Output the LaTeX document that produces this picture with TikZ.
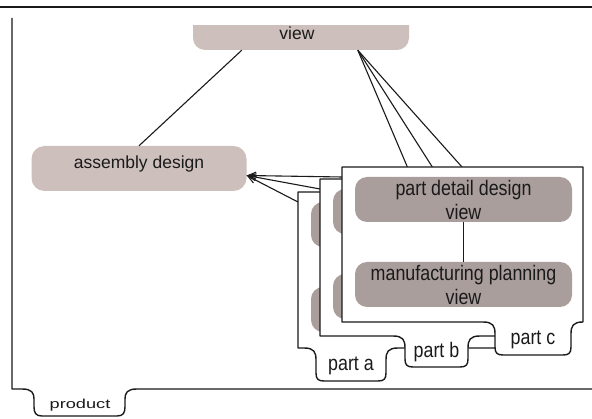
\documentclass[tikz,border=0pt]{standalone}
\usepackage{fontspec}
\setmainfont{Liberation Sans}
\newfontfamily\condfont[FakeStretch=0.85]{Liberation Sans}
\newfontfamily\widefont[FakeStretch=1.4]{Liberation Sans}
\usetikzlibrary{arrows.meta,calc}
\definecolor{viewfill}{HTML}{CDBFBC}
\definecolor{partfill}{HTML}{AA9E9C}
\definecolor{ink}{HTML}{1A1A1A}
\tikzset{
  frameline/.style={draw=ink, line width=1.4pt, line join=round},
  conn/.style={draw=ink, line width=1.1pt},
  barbconn/.style={draw=ink, line width=1.1pt, {Straight Barb[length=8pt,width=7pt]}-},
  viewbox/.style={fill=viewfill, rounded corners=12pt, inner sep=0pt},
  viewtext/.style={font=\fontsize{17.5}{21}\selectfont, text=ink, inner sep=0pt},
  partbox/.style={fill=partfill, rounded corners=12pt, inner sep=0pt,
    minimum width=217pt, minimum height=45pt, align=center,
    font=\condfont\fontsize{21}{24}\selectfont, text=ink},
  partlbl/.style={font=\condfont\fontsize{21}{24}\selectfont, text=ink, inner sep=0pt},
  prodlbl/.style={font=\widefont\fontsize{13}{15}\selectfont, text=ink, inner sep=0pt}
}
% #1 L, #2 T, #3 R, #4 B, #5 x1, #6 x2, #7 depth, #8 name prefix, #9 label
\newcommand{\pframe}[9]{%
  \draw[frameline, fill=white] (#1,#2) -- (#3,#2) -- (#3,#4) -- (#6,#4)
    .. controls (#6-10,#4) and (#6-12,#4+4) .. (#6-12,#4+12)
    -- (#6-12,#4+#7-8)
    .. controls (#6-12,#4+#7-2) and (#6-14,#4+#7) .. (#6-20,#4+#7)
    -- (#5+20,#4+#7)
    .. controls (#5+14,#4+#7) and (#5+12,#4+#7-2) .. (#5+12,#4+#7-8)
    -- (#5+12,#4+12)
    .. controls (#5+12,#4+4) and (#5+10,#4) .. (#5,#4)
    -- (#1,#4) -- cycle;
  \node[partlbl] (#8l) at (#5/2+#6/2,#4+#7/2+1) {#9};
}
% hidden boxes of a back frame: #1 L, #2 T, #3 prefix
\newcommand{\pboxes}[3]{%
  \node[partbox] (#3d) at (#1+121.5,#2+32.5) {};
  \node[partbox] (#3m) at (#1+121.5,#2+117.5) {};
  \draw[conn] (#3d.south) -- (#3m.north);
}
\begin{document}
\begin{tikzpicture}[x=1pt,y=-1pt]
\useasboundingbox (0,0) rectangle (592,419);
\fill[white] (0,0) rectangle (592,419);

% top rule and product frame
\draw[frameline] (0,7) -- (592,7);
\draw[frameline] (12,18) -- (12,389) -- (22,389)
    .. controls (32,389) and (34,393) .. (34,399)
    -- (34,407)
    .. controls (34,413) and (36,416) .. (42,416)
    -- (117,416)
    .. controls (123,416) and (125,413) .. (125,407)
    -- (125,399)
    .. controls (125,393) and (127,389) .. (137,389)
    -- (592,389);
\node[prodlbl] (prod) at (80,405) {product};

% top view node (top cut off)
\begin{scope}
  \clip (0,26) rectangle (592,419);
  \node[viewbox, minimum width=216pt, minimum height=40pt] (top) at (301,30) {};
\end{scope}
\node[viewtext] (toptext) at (297,33) {view};

% assembly design view
\node[viewbox, rounded corners=13pt, minimum width=215pt, minimum height=45pt] (asm) at (139,168.5) {};
\node[viewtext] (asmtext) at (139,164) {assembly design};

% anchor points on the part frames
\coordinate (ta) at (418,192);
\coordinate (tb) at (440,179);
\coordinate (tc) at (462,167);
\coordinate (sa) at (298,202);
\coordinate (sb) at (320,189);
\coordinate (sc) at (342,177);
\coordinate (topl) at ($(top.south west)+(49,0)$);
\coordinate (topr) at ($(top.south west)+(165,0)$);
\coordinate (asmr) at ($(asm.east)+(0,7)$);

% connectors
\draw[conn] (topl) -- (asm.north);
\draw[conn] (topr) -- (ta);
\draw[conn] (topr) -- (tb);
\draw[conn] (topr) -- (tc);
\draw[barbconn] (asmr) -- (sa);
\draw[barbconn] (asmr) -- (sb);
\draw[barbconn] (asmr) -- (sc);

% part frames
\pframe{298}{192}{539}{348}{304}{398}{33}{pa}{part a}
\pboxes{298}{192}{pa}
\pframe{320}{179}{561}{336}{393}{480}{31}{pb}{part b}
\pboxes{320}{179}{pb}
\pframe{342}{167}{583}{322}{483}{583}{33}{pc}{part c}
\node[partbox] (pcd) at (463.5,199.5) {part detail design\\view};
\node[partbox] (pcm) at (463.5,284.5) {manufacturing planning\\view};
\draw[conn] (pcd.south) -- (pcm.north);
\end{tikzpicture}
\end{document}
